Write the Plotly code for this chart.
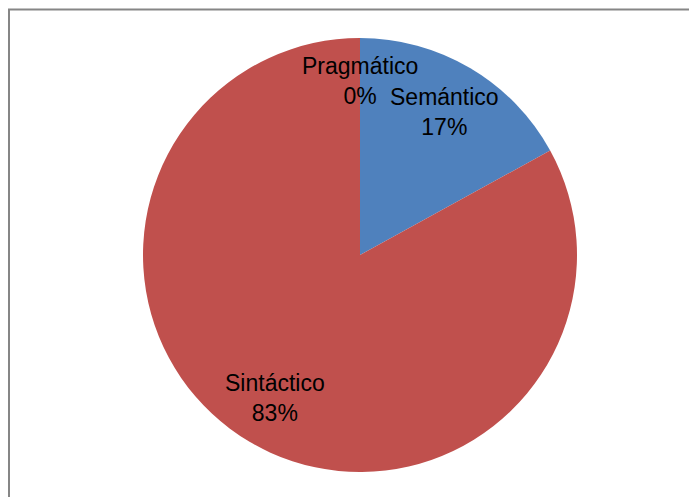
import math
import plotly.graph_objects as go

categories = ["Semántico", "Sintáctico", "Pragmático"]
values = [17, 83, 0]
colors = ["#4F81BD", "#C0504D", "#9BBB59"]

# page body adds ~8px offset; figure sized to fill the remaining window
W, H = 689, 489
cx_px, cy_px, r_px = 352, 247, 217
label_frac = 0.765
zero_label_frac = 0.80

fig = go.Figure(go.Pie(
    labels=categories,
    values=values,
    sort=False,
    direction="clockwise",
    rotation=0,
    marker=dict(colors=colors, line=dict(width=0)),
    textinfo="none",
    hoverinfo="label+percent",
    showlegend=False,
    domain=dict(x=[(cx_px - r_px) / W, (cx_px + r_px) / W],
                y=[1 - (cy_px + r_px) / H, 1 - (cy_px - r_px) / H]),
))

total = sum(values)
cum = 0
annotations = []
for lab, v in zip(categories, values):
    mid = (cum + v / 2) / total * 2 * math.pi
    cum += v
    d = (label_frac if v > 0 else zero_label_frac) * r_px
    x = (cx_px + d * math.sin(mid)) / W
    y = 1 - (cy_px - d * math.cos(mid)) / H
    annotations.append(dict(
        x=x, y=y, xref="paper", yref="paper",
        text=f"{lab}<br>{round(v / total * 100)}%",
        showarrow=False, xanchor="center", yanchor="middle",
        font=dict(family="Liberation Sans, Arial, sans-serif", size=23, color="#000000"),
    ))

fig.update_layout(
    width=W, height=H,
    margin=dict(l=0, r=0, t=0, b=0),
    paper_bgcolor="white",
    plot_bgcolor="white",
    annotations=annotations,
    shapes=[dict(type="rect", xref="paper", yref="paper",
                 x0=1 / W, x1=1.05, y0=-0.05, y1=1 - 1.5 / H,
                 line=dict(color="#868686", width=2), fillcolor="rgba(0,0,0,0)")],
)

fig.write_html("out.html")
